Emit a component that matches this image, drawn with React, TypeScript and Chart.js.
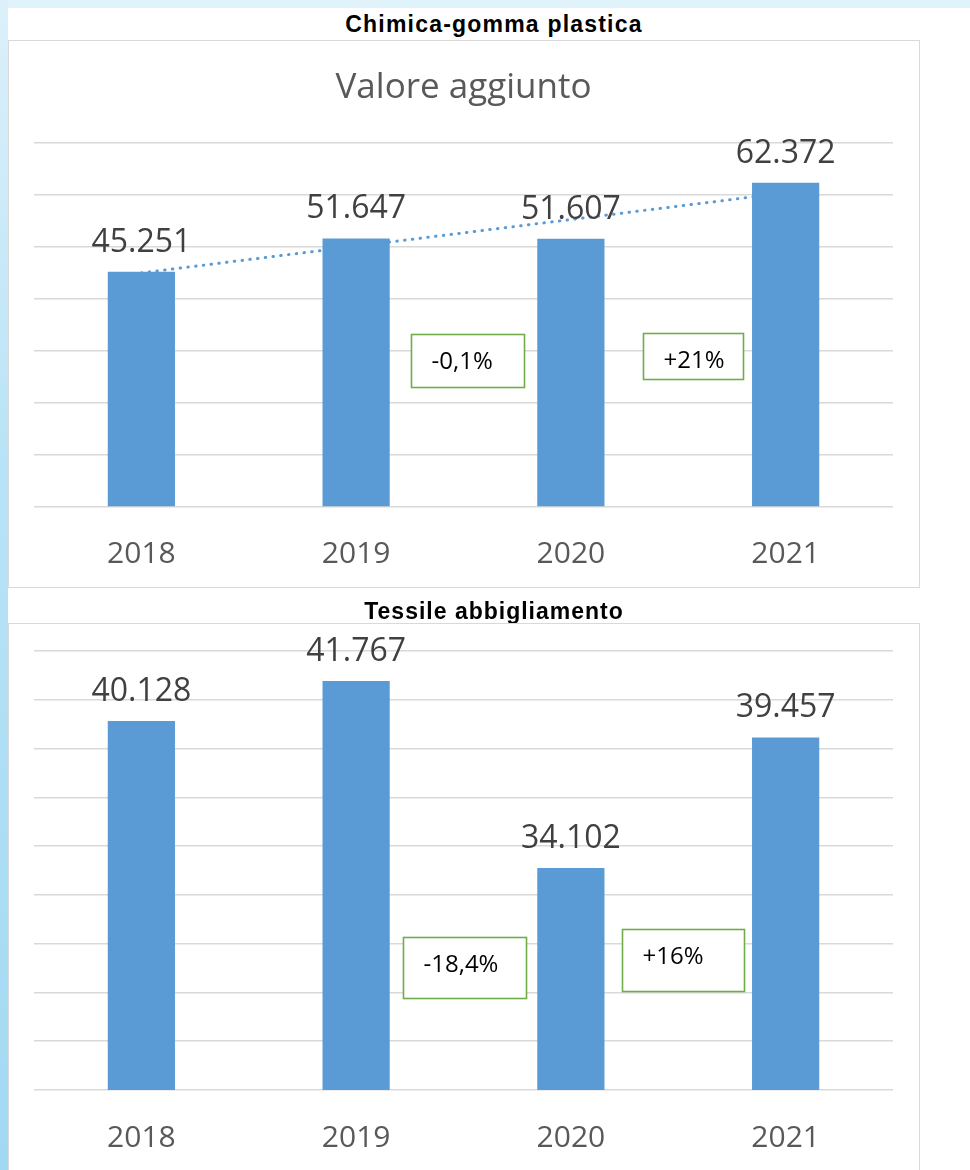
import React, { useEffect, useRef } from "react";
import { Chart, registerables } from "chart.js";

Chart.register(...registerables);

// ---- data ----
const years = ["2018", "2019", "2020", "2021"];
const chemValues = [45251, 51647, 51607, 62372];
const textileValues = [40128, 41767, 34102, 39457];
const chemChanges = ["-0,1%", "+21%"];
const textileChanges = ["-18,4%", "+16%"];
const chemAxis = [0, 70000, 10000];
const textileAxis = [25000, 43000, 2000];

// ---- annotation layout (boxes between categories) ----
const chemBoxes = [
  { after: 1, dx: 4, yValue: 28250, w: 113, h: 53 },
  { after: 2, dx: 15, yValue: 29100, w: 100, h: 46 },
];
const textileBoxes = [
  { after: 1, dx: 1, yValue: 30020, w: 123, h: 61 },
  { after: 2, dx: 5, yValue: 30320, w: 122, h: 62 },
];

const BAR = "#5b9bd5";
const GRID = "#d9d9d9";

function fmt(v: number): string {
  return Math.round(v)
    .toString()
    .replace(/\B(?=(\d{3})+(?!\d))/g, ".");
}

function linearTrend(vals: number[]): number[] {
  const n = vals.length;
  const mx = (n - 1) / 2;
  const my = vals.reduce((a, b) => a + b, 0) / n;
  let num = 0;
  let den = 0;
  vals.forEach((v, i) => {
    num += (i - mx) * (v - my);
    den += (i - mx) * (i - mx);
  });
  const slope = num / den;
  return vals.map((_, i) => my + slope * (i - mx));
}

type PanelProps = {
  values: number[];
  changes: string[];
  boxes: { after: number; dx: number; yValue: number; w: number; h: number }[];
  axis: number[];
  title?: string;
  titleY?: number;
  trend?: boolean;
  padTop: number;
  padBottom: number;
  tickPad: number;
};

function BarPanel(p: PanelProps) {
  const ref = useRef<HTMLCanvasElement>(null);
  useEffect(() => {
    if (!ref.current) return;
    const datasets: any[] = [
      {
        type: "bar",
        data: p.values,
        backgroundColor: BAR,
        borderWidth: 0,
        barPercentage: 0.313,
        categoryPercentage: 1,
        order: 1,
      },
    ];
    if (p.trend) {
      datasets.push({
        type: "line",
        data: linearTrend(p.values),
        borderColor: BAR,
        borderWidth: 3,
        borderDash: [0.5, 7.3],
        borderCapStyle: "round",
        pointRadius: 0,
        fill: false,
        tension: 0,
        order: 2,
      });
    }
    const overlay = {
      id: "overlay",
      afterDraw(chart: any) {
        const ctx = chart.ctx as CanvasRenderingContext2D;
        const xs = chart.scales.x;
        const ys = chart.scales.y;
        ctx.save();
        // value labels
        ctx.font = '32px "Open Sans"';
        ctx.fillStyle = "#404040";
        ctx.textAlign = "center";
        ctx.textBaseline = "alphabetic";
        chart.getDatasetMeta(0).data.forEach((bar: any, i: number) => {
          ctx.fillText(fmt(p.values[i]), bar.x, bar.y - 20);
        });
        // change boxes
        p.boxes.forEach((b, k) => {
          const cx =
            (xs.getPixelForValue(b.after) + xs.getPixelForValue(b.after + 1)) / 2 + b.dx;
          const cy = ys.getPixelForValue(b.yValue);
          const left = Math.round(cx - b.w / 2) + 0.5;
          const top = Math.round(cy - b.h / 2) + 0.5;
          ctx.fillStyle = "#ffffff";
          ctx.fillRect(left, top, b.w, b.h);
          ctx.strokeStyle = "#70ad47";
          ctx.lineWidth = 1.6;
          ctx.strokeRect(left, top, b.w, b.h);
          ctx.fillStyle = "#000000";
          ctx.font = '24px "Open Sans"';
          ctx.textAlign = "left";
          ctx.textBaseline = "middle";
          ctx.fillText(p.changes[k], left + 20, top + 28);
        });
        if (p.title) {
          ctx.font = '35px "Open Sans"';
          ctx.fillStyle = "#595959";
          ctx.textAlign = "center";
          ctx.textBaseline = "alphabetic";
          ctx.fillText(
            p.title,
            (chart.chartArea.left + chart.chartArea.right) / 2,
            p.titleY || 0
          );
        }
        ctx.restore();
      },
    };
    const chart = new Chart(ref.current, {
      type: "bar",
      data: { labels: years, datasets },
      options: {
        animation: false,
        responsive: false,
        maintainAspectRatio: false,
        layout: {
          padding: { left: 26, right: 27, top: p.padTop, bottom: p.padBottom },
        },
        plugins: {
          legend: { display: false },
          tooltip: { enabled: false },
          title: { display: false },
        },
        scales: {
          x: {
            grid: { display: false, drawTicks: false },
            border: { display: false },
            ticks: {
              font: { family: "Open Sans", size: 30 },
              color: "#595959",
              padding: p.tickPad,
            },
          },
          y: {
            min: p.axis[0],
            max: p.axis[1],
            ticks: { stepSize: p.axis[2], display: false },
            grid: { color: GRID, lineWidth: 1.5, drawTicks: false },
            border: { display: false },
          },
        },
      } as any,
      plugins: [overlay],
    });
    return () => chart.destroy();
  }, []);
  return <canvas ref={ref} width={912} height={578} style={{ display: "block" }} />;
}

const titleStyle: React.CSSProperties = {
  position: "absolute",
  left: 194,
  width: 600,
  textAlign: "center",
  fontFamily: '"Liberation Sans", Arial, sans-serif',
  fontWeight: "bold",
  fontSize: 23,
  lineHeight: "23px",
  color: "#000",
  whiteSpace: "nowrap",
};

const boxStyle: React.CSSProperties = {
  position: "absolute",
  left: 8,
  width: 912,
  height: 548,
  boxSizing: "border-box",
  border: `1.5px solid ${GRID}`,
};

export default function App() {
  return (
    <div
      style={{
        position: "fixed",
        left: 0,
        top: 0,
        width: 970,
        height: 1170,
        overflow: "hidden",
        background: "#e0f3fb",
      }}
    >
      <div
        style={{
          position: "absolute",
          left: 0,
          top: 0,
          width: 8,
          height: 1170,
          background: "linear-gradient(to bottom, #dcf0fa 0%, #b8e3f6 40%, #a2d9f2 100%)",
        }}
      />
      <div
        style={{
          position: "absolute",
          left: 8,
          top: 8,
          width: 962,
          height: 1162,
          background: "#ffffff",
        }}
      />
      <div style={{ ...titleStyle, top: 12.5, letterSpacing: "1.2px" }}>
        Chimica-gomma plastica
      </div>
      <div style={{ ...boxStyle, top: 40 }} />
      <div style={{ position: "absolute", left: 8, top: 40 }}>
        <BarPanel
          values={chemValues}
          changes={chemChanges}
          boxes={chemBoxes}
          axis={chemAxis}
          title="Valore aggiunto"
          titleY={58}
          trend
          padTop={103}
          padBottom={17}
          tickPad={29}
        />
      </div>
      <div style={{ ...titleStyle, top: 599.5, letterSpacing: "1px" }}>
        Tessile abbigliamento
      </div>
      <div style={{ ...boxStyle, top: 623 }} />
      <div style={{ position: "absolute", left: 8, top: 623 }}>
        <BarPanel
          values={textileValues}
          changes={textileChanges}
          boxes={textileBoxes}
          axis={textileAxis}
          padTop={28}
          padBottom={15}
          tickPad={30}
        />
      </div>
    </div>
  );
}
